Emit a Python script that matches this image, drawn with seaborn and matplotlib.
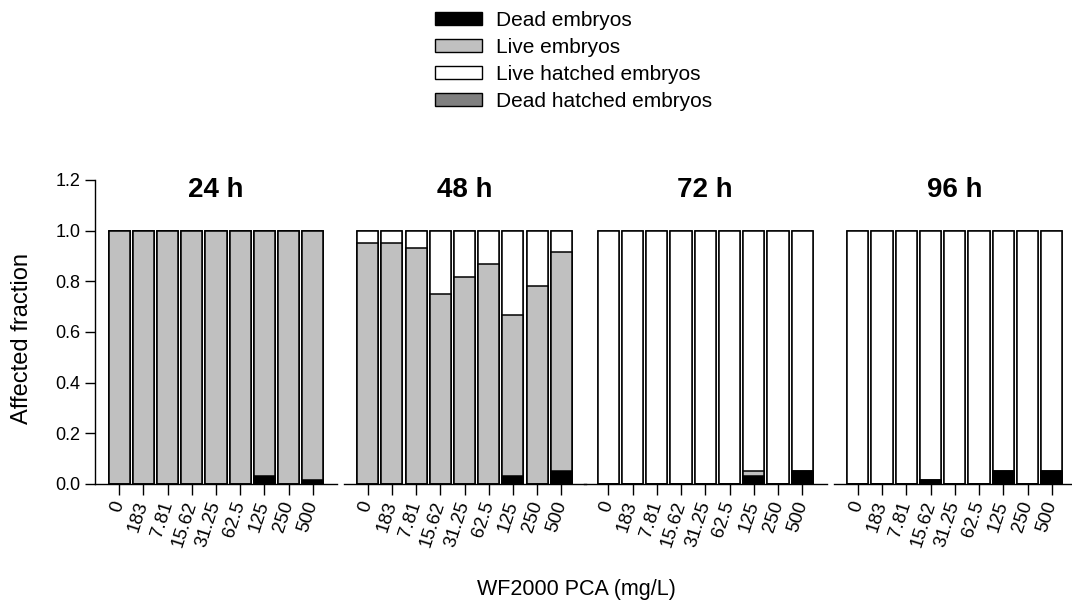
import numpy as np
import pandas as pd
import seaborn as sns
import matplotlib.pyplot as plt
from matplotlib.patches import Patch

sns.set_style("ticks")
plt.rcParams['font.family'] = ['Liberation Sans', 'DejaVu Sans']
plt.rcParams.update({"text.color": "black", "axes.labelcolor": "black",
                     "xtick.color": "black", "ytick.color": "black",
                     "axes.edgecolor": "black"})

conc = ["0", "183", "7.81", "15.62", "31.25", "62.5", "125", "250", "500"]
times = ["24 h", "48 h", "72 h", "96 h"]

dead = {
    "24 h": [0, 0, 0, 0, 0, 0, 0.033, 0, 0.017],
    "48 h": [0, 0, 0, 0, 0, 0, 0.033, 0, 0.05],
    "72 h": [0, 0, 0, 0, 0, 0, 0.033, 0, 0.05],
    "96 h": [0, 0, 0, 0.017, 0, 0, 0.05, 0, 0.05],
}
live = {
    "24 h": [1, 1, 1, 1, 1, 1, 0.967, 1, 0.983],
    "48 h": [0.95, 0.95, 0.933, 0.75, 0.817, 0.867, 0.633, 0.783, 0.867],
    "72 h": [0, 0, 0, 0, 0, 0, 0.017, 0, 0],
    "96 h": [0, 0, 0, 0, 0, 0, 0, 0, 0],
}
live_hatched = {
    "24 h": [0, 0, 0, 0, 0, 0, 0, 0, 0],
    "48 h": [0.05, 0.05, 0.067, 0.25, 0.183, 0.133, 0.333, 0.217, 0.083],
    "72 h": [1, 1, 1, 1, 1, 1, 0.95, 1, 0.95],
    "96 h": [1, 1, 1, 0.983, 1, 1, 0.95, 1, 0.95],
}
dead_hatched = {
    "24 h": [0, 0, 0, 0, 0, 0, 0, 0, 0],
    "48 h": [0, 0, 0, 0, 0, 0, 0, 0, 0],
    "72 h": [0, 0, 0, 0, 0, 0, 0, 0, 0],
    "96 h": [0, 0, 0, 0, 0, 0, 0, 0, 0],
}

labels = ["Dead embryos", "Live embryos", "Live hatched embryos", "Dead hatched embryos"]
colors = ["#000000", "#c0c0c0", "#ffffff", "#808080"]

W, H = 1072, 608
fig = plt.figure(figsize=(W / 100, H / 100), dpi=100)

# panel positions in pixels (left, width)
panels = [(95, 242), (343.5, 242), (584, 242.5), (833.5, 242.5)]
bottom_px, top_px = 484, 180

for i, t in enumerate(times):
    left, width = panels[i]
    ax = fig.add_axes([left / W, (H - bottom_px) / H, width / W, (bottom_px - top_px) / H])
    layers = [dead[t], live[t], live_hatched[t], dead_hatched[t]]
    cum = np.cumsum(np.array(layers), axis=0)
    # draw cumulative stacks from the top down so lower layers overlay
    for k in range(3, -1, -1):
        df = pd.DataFrame({"conc": conc, "val": cum[k]})
        sns.barplot(data=df, x="conc", y="val", color=colors[k], saturation=1,
                    edgecolor="black", linewidth=1.1, width=0.87, errorbar=None, ax=ax)
    ax.set_xlim(-1, 9)
    ax.set_ylim(0, 1.2)
    ax.set_xlabel("")
    ax.set_ylabel("")
    ax.set_xticks(range(len(conc)))
    ax.set_xticklabels(conc, rotation=72, ha="right", va="center", rotation_mode="anchor",
                       fontsize=13.5)
    ax.tick_params(axis="x", length=8, width=1, pad=5)
    for s in ["top", "right"]:
        ax.spines[s].set_visible(False)
    ax.spines["bottom"].set_linewidth(1)
    if i == 0:
        ax.set_yticks([0, 0.2, 0.4, 0.6, 0.8, 1.0, 1.2])
        ax.set_yticklabels(["0.0", "0.2", "0.4", "0.6", "0.8", "1.0", "1.2"], fontsize=13)
        ax.tick_params(axis="y", length=7, width=1)
        ax.spines["left"].set_linewidth(1)
    else:
        ax.spines["left"].set_visible(False)
        ax.set_yticks([])
    ax.patch.set_alpha(0)
    ax.text(4, 1.16, t, ha="center", va="center", fontsize=20, fontweight="bold")

fig.text(576 / W, 1 - 590 / H, "WF2000 PCA (mg/L)", ha="center", va="center", fontsize=15.5)
fig.text(22 / W, 1 - 339 / H, "Affected fraction", ha="center", va="center",
         rotation=90, fontsize=17)

handles = [Patch(facecolor=c, edgecolor="black", linewidth=1) for c in colors]
fig.legend(handles, labels, loc="upper left", bbox_to_anchor=(435 / W, 1 - 11 / H),
           frameon=False, fontsize=15, handlelength=2.25, handleheight=0.55,
           handletextpad=0.7, labelspacing=0.38, borderpad=0, borderaxespad=0)

fig.savefig("out.png", dpi=100)
